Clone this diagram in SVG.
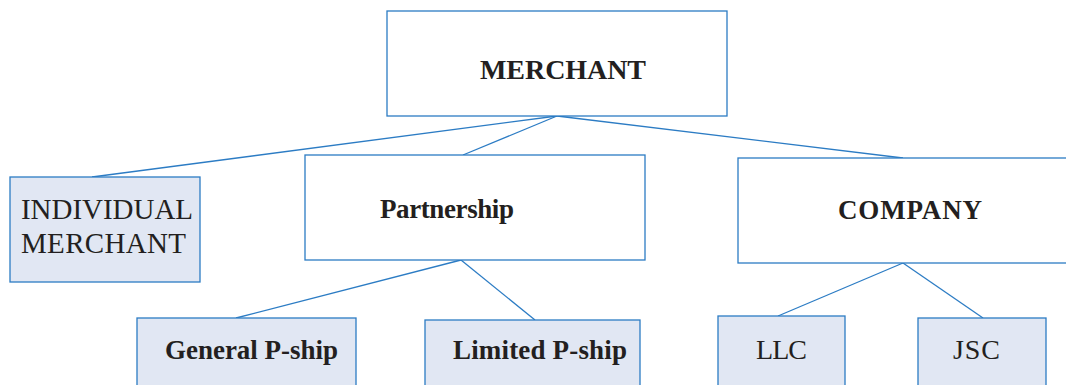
<svg xmlns="http://www.w3.org/2000/svg" width="1066" height="385" viewBox="0 0 1066 385">
<style>
.box{stroke:#2c7cc4;stroke-width:1.3;}
.w{fill:#ffffff;}
.b{fill:#e1e7f3;}
.t{font-family:"Liberation Serif",serif;fill:#231f20;}
.bd{font-weight:bold;}
.c{stroke:#2c7cc4;stroke-width:1.3;fill:none;}
</style>
<rect width="1066" height="385" fill="#ffffff"/>
<g id="connectors">
<line class="c" x1="557" y1="116" x2="92" y2="177"/>
<line class="c" x1="557" y1="116" x2="463" y2="155"/>
<line class="c" x1="557" y1="116" x2="903" y2="158"/>
<line class="c" x1="461" y1="260" x2="236" y2="318"/>
<line class="c" x1="461" y1="260" x2="535" y2="320"/>
<line class="c" x1="903" y1="263" x2="778" y2="316"/>
<line class="c" x1="903" y1="263" x2="983" y2="318"/>
</g>
<g id="merchant">
<rect class="box w" x="387" y="11" width="340" height="105"/>
<text class="t bd" x="480" y="79" font-size="28" textLength="166">MERCHANT</text>
</g>
<g id="individual">
<rect class="box b" x="10" y="177" width="190" height="105"/>
<text class="t" x="21" y="219" font-size="29" textLength="172">INDIVIDUAL</text>
<text class="t" x="21" y="253" font-size="29" textLength="165">MERCHANT</text>
</g>
<g id="partnership">
<rect class="box w" x="305" y="155" width="340" height="105"/>
<text class="t bd" x="380" y="218" font-size="27" textLength="134">Partnership</text>
</g>
<g id="company">
<rect class="box w" x="738" y="158" width="340" height="105"/>
<text class="t bd" x="838" y="219" font-size="27" textLength="144">COMPANY</text>
</g>
<g id="general">
<rect class="box b" x="137" y="318" width="219" height="80"/>
<text class="t bd" x="165" y="359" font-size="27" textLength="173">General P-ship</text>
</g>
<g id="limited">
<rect class="box b" x="425" y="320" width="215" height="80"/>
<text class="t bd" x="453" y="359" font-size="27" textLength="174">Limited P-ship</text>
</g>
<g id="llc">
<rect class="box b" x="718" y="316" width="127" height="80"/>
<text class="t" x="756" y="359" font-size="28" textLength="51">LLC</text>
</g>
<g id="jsc">
<rect class="box b" x="918" y="318" width="128" height="80"/>
<text class="t" x="953" y="359" font-size="28" textLength="47">JSC</text>
</g>
</svg>
